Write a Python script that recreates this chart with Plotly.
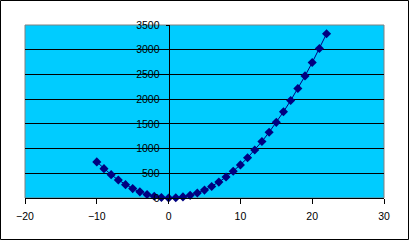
import plotly.graph_objects as go

x_vals = list(range(-10, 23))
y_vals = [730, 594, 472, 364, 270, 190, 124, 72, 34, 10, 0, 4, 22, 54, 100, 160,
          234, 322, 424, 540, 670, 814, 972, 1144, 1330, 1530, 1744, 1972, 2214,
          2470, 2740, 3024, 3322]

W, H = 409, 240
ml, mr, mt, mb = 25, 25, 25, 42
pw, ph = W - ml - mr, H - mt - mb

fig = go.Figure()
fig.add_trace(go.Scatter(
    x=x_vals, y=y_vals, mode="lines+markers",
    line=dict(color="#000080", width=1),
    marker=dict(symbol="diamond", size=7, color="#000080"),
    showlegend=False, cliponaxis=False))

xmin, xmax = -20, 30
fig.update_layout(
    width=W, height=H,
    margin=dict(l=ml, r=mr, t=mt, b=mb),
    paper_bgcolor="white", plot_bgcolor="#00CCFF",
    font=dict(family="Liberation Sans, Arial", size=10.5, color="black"),
    xaxis=dict(range=[xmin, xmax], tickvals=[-20, -10, 0, 10, 20, 30],
               showgrid=False, zeroline=False, showline=True, linecolor="black",
               linewidth=1, ticks="outside", ticklen=5, tickcolor="black",
               ticklabelstandoff=3),
    yaxis=dict(range=[0, 3500], tickvals=[0, 500, 1000, 1500, 2000, 2500, 3000, 3500],
               showgrid=True, gridcolor="black", gridwidth=1, zeroline=False,
               showline=True, linecolor="black", linewidth=1,
               anchor="free", position=(0 - xmin) / (xmax - xmin),
               ticks="outside", ticklen=3, tickcolor="black",
               ticklabelstandoff=4),
    shapes=[
        dict(type="rect", xref="paper", yref="paper", x0=0, x1=1, y0=0, y1=1,
             line=dict(color="#808080", width=1), layer="below"),
        dict(type="rect", xref="paper", yref="paper",
             x0=(0.5 - ml) / pw, x1=(W - 0.5 - ml) / pw,
             y0=-(mb - 0.5) / ph, y1=1 + (mt - 0.5) / ph,
             line=dict(color="black", width=1)),
    ],
)
fig.write_html("out.html")
